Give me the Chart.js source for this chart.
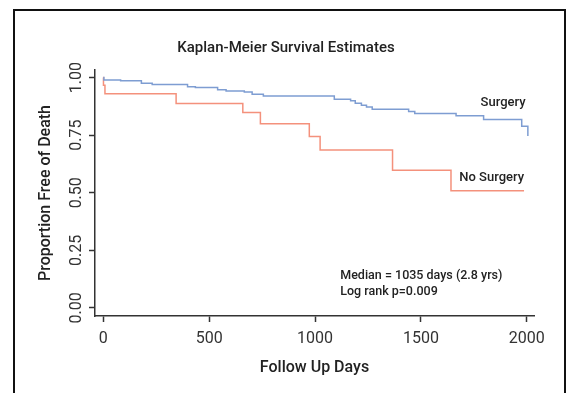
<!DOCTYPE html>
<html>
<head>
<meta charset="utf-8">
<script src="https://cdn.jsdelivr.net/npm/chart.js@4.4.1/dist/chart.umd.min.js"></script>
<style>
  html, body { margin: 0; padding: 0; background: #fff; overflow: hidden; }
  #wrap { position: relative; width: 569px; height: 393px; }
  #km { position: absolute; left: 0; top: 0; }
  #frame { position: absolute; left: 13px; top: 9px; width: 549px; height: 420px; border: 2px solid #111; pointer-events: none; }
</style>
</head>
<body>
<div id="wrap">
  <canvas id="km" width="569" height="393"></canvas>
  <div id="frame"></div>
</div>
<script>
/* Kaplan-Meier curve, surgery vs no surgery */

const X_TICKS = [0, 500, 1000, 1500, 2000];
const Y_TICKS = [0, 0.25, 0.5, 0.75, 1];

const surgeryDays = [0, 3, 82, 180, 231, 398, 435, 540, 580, 666, 703, 756, 1091, 1168, 1190, 1219, 1243, 1270, 1442, 1471, 1666, 1796, 1976, 2005];
const surgerySurv = [1, 0.99, 0.986, 0.975, 0.97, 0.96, 0.957, 0.947, 0.942, 0.937, 0.928, 0.92, 0.906, 0.9, 0.889, 0.88, 0.872, 0.863, 0.853, 0.844, 0.834, 0.818, 0.789, 0.746];

const noSurgeryDays = [0, 1, 8, 344, 659, 742, 973, 1024, 1366, 1642, 1987];
const noSurgerySurv = [1, 0.967, 0.93, 0.888, 0.848, 0.8, 0.744, 0.686, 0.598, 0.509, 0.509];

const BLUE = "#7e9dd2";
const RED = "#f4917c";
const INK = "#222";
const FONT = "Roboto, 'Open Sans', sans-serif";

const toPoints = (xs, ys) => xs.map((x, i) => ({ x, y: ys[i] }));

// text placed in data coordinates
const notes = [
  { text: "Surgery", x: 1888, y: 0.891, align: "center", size: 13 },
  { text: "No Surgery", x: 1834, y: 0.566, align: "center", size: 13 },
  { text: "Median = 1035 days (2.8 yrs)", x: 1119, y: 0.14, align: "left", size: 12.5 },
  { text: "Log rank p=0.009", x: 1119, y: 0.068, align: "left", size: 12.5 },
];

const textPlugin = {
  id: "kmText",
  afterDraw(chart) {
    const { ctx, scales: { x, y } } = chart;
    ctx.save();
    ctx.fillStyle = INK;
    ctx.textBaseline = "middle";
    // title sits a little left of the plot centre in the original
    ctx.font = `500 15px ${FONT}`;
    ctx.textAlign = "center";
    ctx.fillText("Kaplan-Meier Survival Estimates", 286, 48);
    notes.forEach((n) => {
      ctx.font = `500 ${n.size}px ${FONT}`;
      ctx.textAlign = n.align;
      ctx.fillText(n.text, x.getPixelForValue(n.x), y.getPixelForValue(n.y));
    });
    // vertical y tick labels
    ctx.font = `16px ${FONT}`;
    ctx.fillStyle = "#333";
    ctx.textAlign = "center";
    y.ticks.forEach((t) => {
      ctx.save();
      ctx.translate(77, y.getPixelForValue(t.value));
      ctx.rotate(-Math.PI / 2);
      ctx.fillText(t.value.toFixed(2), 0, 0);
      ctx.restore();
    });
    ctx.restore();
  },
};

new Chart(document.getElementById("km"), {
  type: "line",
  data: {
    datasets: [
      { label: "Surgery", data: toPoints(surgeryDays, surgerySurv), borderColor: BLUE, borderWidth: 1.5, stepped: true, pointRadius: 0, fill: false },
      { label: "No Surgery", data: toPoints(noSurgeryDays, noSurgerySurv), borderColor: RED, borderWidth: 1.5, stepped: true, pointRadius: 0, fill: false },
    ],
  },
  options: {
    responsive: false,
    animation: false,
    layout: { padding: { left: 0, right: 35, top: 70, bottom: 0 } },
    plugins: {
      legend: { display: false },
      tooltip: { enabled: false },
      title: { display: false },
    },
    scales: {
      x: {
        type: "linear",
        min: -39,
        max: 2034,
        afterBuildTicks: (s) => { s.ticks = X_TICKS.map((v) => ({ value: v })); },
        afterFit: (s) => { s.height = 77; },
        border: { color: "#333", width: 1.5 },
        grid: { drawOnChartArea: false, drawTicks: true, tickLength: 6, tickColor: "#333", tickWidth: 1.5 },
        ticks: { color: "#333", font: { family: FONT, size: 16 }, padding: 7, maxRotation: 0, callback: (v) => String(v) },
        title: { display: true, text: "Follow Up Days", color: INK, font: { family: FONT, size: 16, weight: 500 }, padding: { top: 0, bottom: 15 } },
      },
      y: {
        min: -0.035,
        max: 1.033,
        afterBuildTicks: (s) => { s.ticks = Y_TICKS.map((v) => ({ value: v })); },
        afterFit: (s) => { s.width = 95; },
        border: { color: "#333", width: 1.5 },
        grid: { drawOnChartArea: false, drawTicks: true, tickLength: 6, tickColor: "#333", tickWidth: 1.5 },
        ticks: { display: false },
        title: { display: true, text: "Proportion Free of Death", color: INK, font: { family: FONT, size: 16, weight: 500 }, padding: { top: 36, bottom: 36 } },
      },
    },
  },
  plugins: [textPlugin],
});
</script>
</body>
</html>
